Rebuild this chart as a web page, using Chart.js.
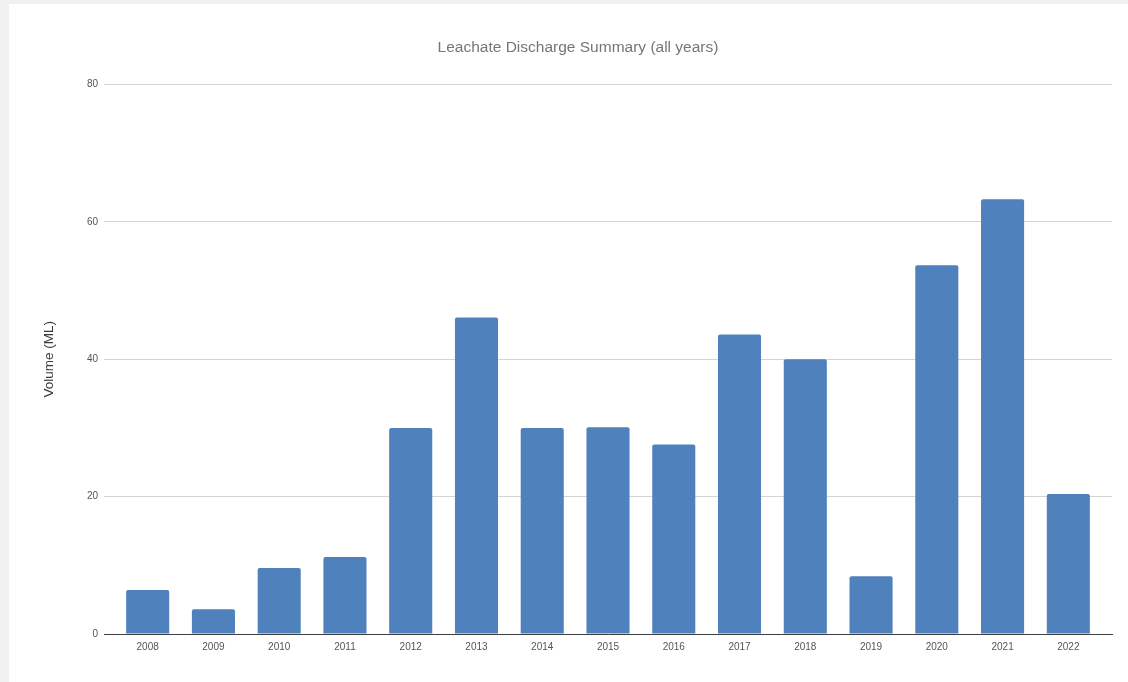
<!DOCTYPE html>
<html>
<head>
<meta charset="utf-8">
<script src="https://cdn.jsdelivr.net/npm/chart.js@4/dist/chart.umd.min.js"></script>
<style>
  html, body { margin: 0; padding: 0; background: #f1f1f1; overflow: hidden; }
  #panel { position: absolute; left: 9px; top: 4px; width: 1119px; height: 678px; background: #fff; }
  #chart { position: absolute; left: 35px; top: 0; }
</style>
</head>
<body>
<div id="panel"><canvas id="chart" width="1084" height="678"></canvas></div>
<script>
// Yıllık sızıntı suyu deşarj hacimleri (ML)
const years = ['2008', '2009', '2010', '2011', '2012', '2013', '2014', '2015',
               '2016', '2017', '2018', '2019', '2020', '2021', '2022'];
const volumes = [6.4, 3.6, 9.6, 11.2, 30.0, 46.1, 30.0, 30.1,
                 27.6, 43.6, 40.0, 8.4, 53.7, 63.3, 20.4];
const yTicks = [0, 20, 40, 60, 80];

const fontFamily = '"Liberation Sans", Arial, sans-serif';

// Eksen çizgisi çubuklardan biraz taşsın diye kenarlarda ek boşluk
const edge = 0.664;

new Chart(document.getElementById('chart'), {
    type: 'bar',
    data: {
        datasets: [{
            label: 'Volume (ML)',
            data: volumes.map((v, i) => ({ x: i, y: v })),
            backgroundColor: '#4f81bd',
            borderRadius: { topLeft: 2, topRight: 2 },
            borderSkipped: 'bottom',
            categoryPercentage: 1,
            barPercentage: 0.655
        }]
    },
    options: {
        responsive: false,
        animation: false,
        layout: { padding: { left: 0, right: 16, top: 0, bottom: 0 } },
        plugins: {
            legend: { display: false },
            tooltip: { enabled: false },
            title: {
                display: true,
                text: 'Leachate Discharge Summary (all years)',
                color: '#767676',
                font: { family: fontFamily, size: 15.5, weight: 'normal', lineHeight: 1.2 },
                padding: { top: 34, bottom: 28 }
            }
        },
        scales: {
            x: {
                type: 'linear',
                offset: false,
                min: -edge,
                max: years.length - 1 + edge,
                grid: { display: false, drawTicks: false },
                border: { display: true, color: '#404040', width: 1 },
                afterBuildTicks: scale => { scale.ticks = years.map((y, i) => ({ value: i })); },
                ticks: {
                    color: '#555',
                    font: { family: fontFamily, size: 10 },
                    padding: 7,
                    maxRotation: 0,
                    autoSkip: false,
                    callback: value => years[value]
                },
                afterFit: scale => { scale.height = 48; }
            },
            y: {
                min: 0,
                max: 80,
                afterBuildTicks: scale => { scale.ticks = yTicks.map(v => ({ value: v })); },
                grid: { color: '#d4d4d4', drawTicks: false },
                border: { display: false },
                ticks: { color: '#555', font: { family: fontFamily, size: 10 }, padding: 6 },
                title: {
                    display: true,
                    text: 'Volume (ML)',
                    color: '#3a3a3a',
                    font: { family: fontFamily, size: 13.5, lineHeight: 0.8 },
                    padding: { top: 0, bottom: 0 }
                },
                afterFit: scale => { scale.width = 60; }
            }
        }
    }
});
</script>
</body>
</html>
